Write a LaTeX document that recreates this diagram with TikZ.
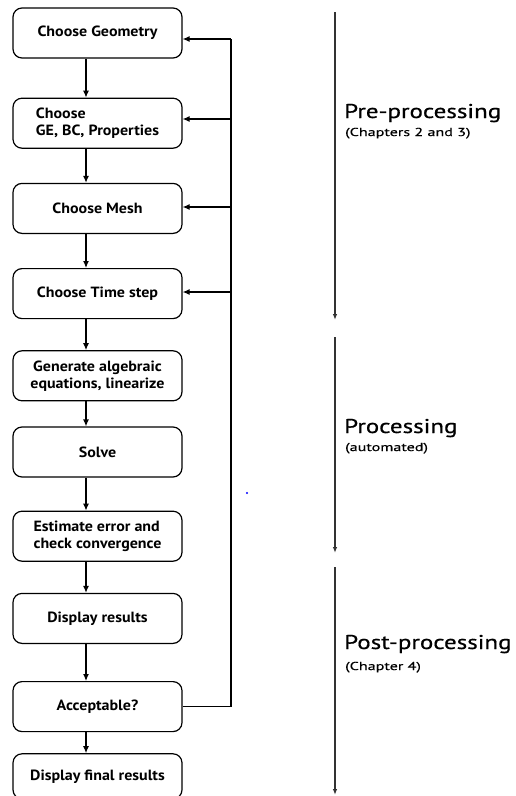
\documentclass[tikz,border=0pt]{standalone}
\usepackage{fontspec}
\setmainfont{PT Sans}
\newfontfamily\boxfont{PT Sans}[FakeStretch=1.08]
\newfontfamily\phasefont{PT Sans}[FakeStretch=1.25, FakeBold=0.6]
\newfontfamily\notefont{PT Sans}[FakeStretch=1.4, FakeBold=0.4]
\usetikzlibrary{positioning,arrows.meta}
\tikzset{
  stage/.style={draw, rounded corners=9pt, line width=1.2pt, minimum width=169pt,
    minimum height=50pt, inner sep=2pt, align=center,
    font=\boxfont\bfseries\fontsize{14.8}{17}\selectfont},
  flow/.style={-{Latex[length=7pt,width=6pt]}, line width=1.2pt},
  phase/.style={-{Latex[length=6pt,width=4.5pt]}, line width=1.1pt, black!80},
  phasename/.style={anchor=base west, inner sep=0pt, font=\phasefont\fontsize{20}{22}\selectfont},
  phasenote/.style={anchor=base west, inner sep=0pt, font=\notefont\fontsize{11.5}{13}\selectfont}}

\begin{document}
\begin{tikzpicture}[x=1pt, y=-1pt]
  \useasboundingbox (0,0) rectangle (515,796);
  % flowchart
  \node[stage] (geom) at (97.5,33) {Choose Geometry};
  \node[stage, align=left, below=39pt of geom] (props) {Choose\\GE, BC, Properties};
  \node[stage, below=34pt of props]  (mesh)   {Choose Mesh};
  \node[stage, below=34pt of mesh]   (tstep)  {Choose Time step};
  \node[stage, below=31pt of tstep]  (alg)    {Generate algebraic\\equations, linearize};
  \node[stage, below=25pt of alg]    (solve)  {Solve};
  \node[stage, align=left, below=33pt of solve] (conv) {Estimate error and\\check convergence};
  \node[stage, below=31pt of conv]   (show)   {Display results};
  \node[stage, below=37pt of show]   (accept) {Acceptable?};
  \node[stage, minimum height=45pt, below=21pt of accept] (final) {Display final results};

  \foreach \a/\b in {geom/props, props/mesh, mesh/tstep, tstep/alg, alg/solve,
                     solve/conv, conv/show, show/accept, accept/final}
    \draw[flow] ([xshift=-11.5pt]\a.south) -- ([xshift=-11.5pt]\b.north);

  % loop back
  \coordinate (looptop) at (231,39);
  \draw[line width=1.2pt] (accept.east) -| (looptop);
  \foreach \b/\y in {geom/39, props/119, mesh/207, tstep/292}
    \draw[flow] (231,\y) -- (\b.east |- 0,\y);

  % phases
  \coordinate (pre1) at (335,12);   \coordinate (pre2) at (335,320);
  \coordinate (pro1) at (335,337);  \coordinate (pro2) at (335,553);
  \coordinate (post1) at (335,567); \coordinate (post2) at (335,795);
  \draw[phase] (pre1) -- (pre2);
  \draw[phase] (pro1) -- (pro2);
  \draw[phase] (post1) -- (post2);

  \node[phasename] (prename) at (344,118) {Pre-processing};
  \node[phasenote] (prenote) at (345,136) {(Chapters 2 and 3)};
  \node[phasename] (proname) at (344,433) {Processing};
  \node[phasenote] (pronote) at (345,451) {(automated)};
  \node[phasename] (postname) at (344,649) {Post-processing};
  \node[phasenote] (postnote) at (345,670) {(Chapter 4)};

  \fill[blue] (247,493) circle (1.2pt);
\end{tikzpicture}
\end{document}
